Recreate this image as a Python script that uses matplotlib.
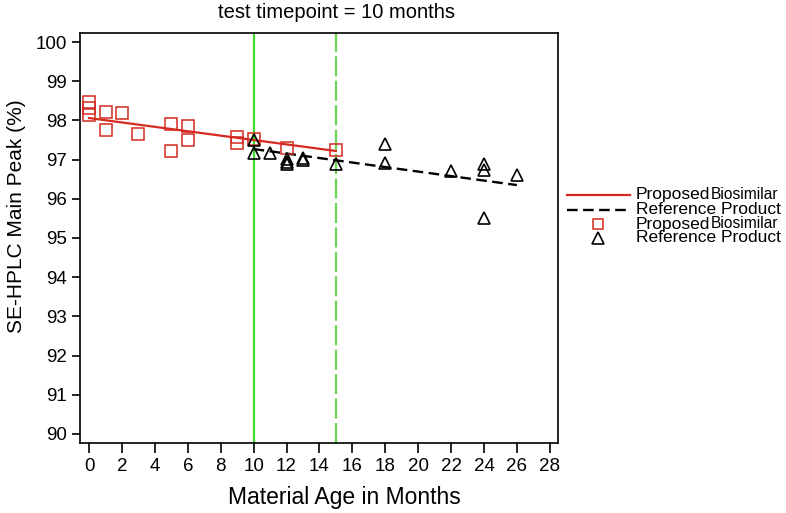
import numpy as np
import matplotlib
matplotlib.use("Agg")
import matplotlib.pyplot as plt
from matplotlib.lines import Line2D

plt.rcParams['font.family'] = ['Liberation Sans', 'DejaVu Sans']

# proposed biosimilar (red squares)
bio_month = [0, 0, 0, 1, 1, 2, 3, 5, 5, 6, 6, 9, 9, 10, 12, 15]
bio_peak = [98.48, 98.31, 98.14, 98.21, 97.76, 98.18, 97.65, 97.91, 97.23,
            97.86, 97.50, 97.57, 97.43, 97.52, 97.30, 97.24]
bio_fit_x = [0, 15]
bio_fit_y = [98.06, 97.22]

# reference product (black triangles)
ref_month = [10, 10, 11, 12, 12, 12, 13, 13, 15, 18, 18, 22, 24, 24, 24, 26]
ref_peak = [97.50, 97.16, 97.16, 97.01, 96.95, 96.90, 97.03, 96.99, 96.88,
            97.39, 96.92, 96.71, 96.88, 96.73, 95.52, 96.61]
ref_fit_x = [10, 26]
ref_fit_y = [97.27, 96.35]

test_time = 10
last_bio = 15

red = '#d42a1f'
W, H = 786, 513
fig = plt.figure(figsize=(W / 100, H / 100), dpi=100)
ax = fig.add_axes([80 / W, (H - 443) / H, 478 / W, 410 / H])

ax.axvline(test_time, color='#3fdc2c', lw=1.6)
ax.axvline(last_bio, color='#6ad653', lw=1.6, dashes=(9, 2))

ax.plot(bio_fit_x, bio_fit_y, color=red, lw=1.6)
ax.plot(ref_fit_x, ref_fit_y, color='black', lw=1.7, dashes=(4.5, 2.3))
ax.plot(bio_month, bio_peak, ls='none', marker='s', ms=8, mfc='none',
        mec=red, mew=1.1)
ax.plot(ref_month, ref_peak, ls='none', marker='^', ms=9, mfc='none',
        mec='black', mew=1.2)

ax.set_xlim(-0.55, 28.5)
ax.set_ylim(89.77, 100.23)
ax.set_xticks(np.arange(0, 29, 2))
ax.set_yticks(np.arange(90, 101, 1))
ax.tick_params(axis='both', labelsize=13.5, width=1.2, direction='out')
ax.tick_params(axis='x', length=7)
ax.tick_params(axis='y', length=6)
for s in ax.spines.values():
    s.set_linewidth(1.2)
ax.set_xlabel('Material Age in Months', fontsize=16.5)
ax.set_ylabel('SE-HPLC Main Peak (%)', fontsize=15)
ax.xaxis.set_label_coords(0.554, -0.106)
ax.yaxis.set_label_coords(-0.112, 0.554)

fig.text(336 / W, 1 - 12 / H, 'test timepoint = 10 months', fontsize=14.5,
         ha='center', va='center')

# legend drawn by hand (tight row spacing, squeezed "Biosimilar")
def fx(x):
    return x / W

def fy(y):
    return 1 - y / H

rows = [195, 210, 224, 238]
fig.add_artist(Line2D([fx(567), fx(630)], [fy(rows[0])] * 2, color=red, lw=1.6))
fig.add_artist(Line2D([fx(567), fx(630)], [fy(rows[1])] * 2, color='black',
                      lw=1.7, dashes=(4.5, 2.3)))
fig.add_artist(Line2D([fx(598)], [fy(rows[2])], marker='s', ms=7, mfc='none',
                      mec=red, mew=1.1, ls='none'))
fig.add_artist(Line2D([fx(598)], [fy(rows[3])], marker='^', ms=8, mfc='none',
                      mec='black', mew=1.2, ls='none'))
labels = ['Proposed', 'Reference Product', 'Proposed', 'Reference Product']
texts = []
for y, lab in zip(rows, labels):
    texts.append(fig.text(fx(636), fy(y), lab, fontsize=12.5, va='center',
                          ha='left'))
for t in (texts[0], texts[2]):
    ax.annotate('Biosimilar', xy=(1, 0.5), xycoords=t, xytext=(0.5, 0),
                textcoords='offset points', fontsize=11.2, va='center',
                ha='left', annotation_clip=False)

fig.savefig('out.png', dpi=100)
